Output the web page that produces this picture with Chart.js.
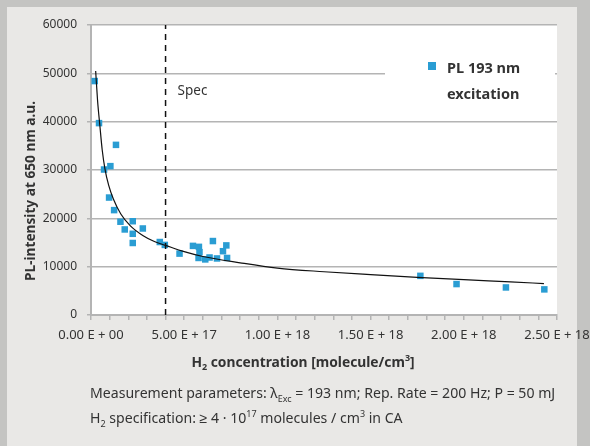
<!DOCTYPE html>
<html>
<head>
<meta charset="utf-8">
<script src="https://cdn.jsdelivr.net/npm/chart.js@4.4.1/dist/chart.umd.min.js"></script>
<style>
html,body{margin:0;padding:0;}
body{width:590px;height:446px;background:#c4c4c2;position:relative;overflow:hidden;
  font-family:'Noto Sans',sans-serif;font-stretch:condensed;}
#panel{position:absolute;left:7px;top:7px;width:570px;height:439px;background:#e9e8e6;}
#wrap{position:absolute;left:0;top:0;width:590px;height:446px;}
.cap{position:absolute;left:90px;font-size:14.1px;color:#333;white-space:nowrap;line-height:20px;}
.cap sub{font-size:9px;vertical-align:-4px;line-height:0;}
.cap sup{font-size:9px;vertical-align:6px;line-height:0;}
</style>
</head>
<body>
<div id="panel"></div>
<div id="wrap"><canvas id="c" width="590" height="446"></canvas></div>
<div class="cap" style="top:383px">Measurement parameters: λ<sub>Exc</sub> = 193 nm; Rep. Rate = 200 Hz; P = 50 mJ</div>
<div class="cap" style="top:408px">H<sub>2</sub> specification: ≥ 4 · 10<sup>17</sup> molecules / cm<sup>3</sup> in CA</div>
<script>
// ---- data ----
const concentration = [0.2e17, 0.43e17, 1.34e17, 0.70e17, 1.04e17, 0.97e17, 1.24e17, 1.58e17, 1.81e17,
  2.24e17, 2.24e17, 2.24e17, 2.78e17, 3.69e17, 3.96e17, 4.75e17, 5.47e17, 5.79e17, 5.82e17, 5.77e17,
  6.13e17, 6.36e17, 6.54e17, 6.76e17, 7.08e17, 7.26e17, 7.30e17, 17.67e17, 19.61e17, 22.26e17, 24.32e17];
const intensity = [48400, 39700, 35200, 30100, 30800, 24300, 21700, 19300, 17700,
  19400, 16800, 14900, 17900, 15100, 14500, 12700, 14300, 14100, 13000, 11800,
  11500, 11900, 15300, 11700, 13200, 14400, 11800, 8100, 6400, 5700, 5300];
const fitX = [0.25e17, 0.35e17, 0.48e17, 0.6e17, 0.75e17, 0.95e17, 1.2e17, 1.6e17, 2.1e17, 2.8e17, 3.4e17,
  4.0e17, 5.0e17, 6.0e17, 8.0e17, 10e17, 12.5e17, 15e17, 17.5e17, 20e17, 22.5e17, 24.3e17];
const fitY = [50500, 44500, 39000, 34200, 30200, 26800, 24000, 20900, 18500, 16400, 15200,
  14400, 13100, 12100, 10800, 9700, 8950, 8350, 7800, 7300, 6850, 6500];
const specX = [4e17, 4e17];
const specY = [0, 60000];
const xTickLabels = ['0.00 E + 00', '5.00 E + 17', '1.00 E + 18', '1.50 E + 18', '2.00 E + 18', '2.50 E + 18'];
const yTickLabels = ['0', '10000', '20000', '30000', '40000', '50000', '60000'];
const seriesName = ['PL 193 nm', 'excitation'];
const specLabel = 'Spec';
const yTitle = 'PL-intensity at 650 nm a.u.';

const FONT = "'Noto Sans', sans-serif";
const ST = 'condensed';
const BLUE = '#2a9dd3';
const GRID = '#b4b4b4';
const TXT = '#333333';

const pts = concentration.map((x, i) => ({x, y: intensity[i]}));
const fit = fitX.map((x, i) => ({x, y: fitY[i]}));
const spec = specX.map((x, i) => ({x, y: specY[i]}));

const deco = {
  id: 'deco',
  beforeDraw(chart) {
    const {ctx, chartArea: a} = chart;
    ctx.save();
    ctx.fillStyle = '#ffffff';
    ctx.fillRect(a.left, a.top, a.right - a.left, a.bottom - a.top);
    ctx.restore();
  },
  beforeDatasetsDraw(chart) {
    const {ctx, chartArea: a} = chart;
    ctx.save();
    ctx.fillStyle = '#ffffff';
    ctx.fillRect(a.right - 172, a.top + 25, 170, 60);
    ctx.restore();
  },
  afterDatasetsDraw(chart) {
    const {ctx, chartArea: a, scales} = chart;
    ctx.save();
    ctx.fillStyle = BLUE;
    ctx.fillRect(a.right - 129, a.top + 37, 8, 8);
    ctx.fillStyle = TXT;
    ctx.font = ST + ' bold 14.5px ' + FONT;
    ctx.textBaseline = 'alphabetic';
    ctx.textAlign = 'left';
    ctx.fillText(seriesName[0], a.right - 110, a.top + 48);
    ctx.fillText(seriesName[1], a.right - 110, a.top + 73.5);
    ctx.font = ST + ' 13.5px ' + FONT;
    ctx.fillText(specLabel, scales.x.getPixelForValue(specX[0]) + 12, a.top + 70);
    ctx.restore();
  },
  afterDraw(chart) {
    const {ctx} = chart;
    ctx.save();
    ctx.fillStyle = TXT;
    ctx.font = ST + ' bold 13.7px ' + FONT;
    ctx.translate(31, 191);
    ctx.rotate(-Math.PI / 2);
    ctx.textAlign = 'center';
    ctx.textBaseline = 'middle';
    ctx.fillText(yTitle, 0, 0);
    ctx.restore();
    ctx.save();
    ctx.fillStyle = TXT;
    ctx.textBaseline = 'alphabetic';
    const big = ST + ' bold 13.8px ' + FONT, small = ST + ' bold 9px ' + FONT;
    const parts = [['H', big, 0], ['2', small, 3], [' concentration [molecule/cm', big, 0], ['3', small, -6], [']', big, 0]];
    let w = 0;
    parts.forEach(p => { ctx.font = p[1]; w += ctx.measureText(p[0]).width; });
    let x = 303 - w / 2; const base = 367;
    parts.forEach(p => { ctx.font = p[1]; ctx.fillText(p[0], x, base + p[2]); x += ctx.measureText(p[0]).width; });
    ctx.restore();
  }
};

new Chart(document.getElementById('c'), {
  type: 'scatter',
  data: {
    datasets: [
      {label: 'fit', data: fit, showLine: true, borderColor: '#111111', borderWidth: 1.2, pointRadius: 0,
       cubicInterpolationMode: 'monotone', fill: false},
      {label: 'spec', data: spec, showLine: true, borderColor: '#111111', borderWidth: 1.5, borderDash: [6, 5],
       pointRadius: 0, fill: false},
      {label: seriesName.join(' '), data: pts, pointStyle: 'rect', pointRadius: 4.6, backgroundColor: BLUE,
       borderWidth: 0, showLine: false}
    ]
  },
  options: {
    responsive: false,
    animation: false,
    devicePixelRatio: 1,
    layout: {padding: {left: 0, top: 25, right: 33, bottom: 91}},
    plugins: {legend: {display: false}, tooltip: {enabled: false}},
    scales: {
      x: {
        type: 'linear', min: 0, max: 2.5e18,
        afterFit(s) { s.height = 40; s.paddingLeft = 0; s.paddingRight = 0; },
        ticks: {
          stepSize: 1e17, autoSkip: false, maxRotation: 0, minRotation: 0, color: TXT, padding: 7,
          font: {family: FONT, size: 13, weight: ST},
          callback(v) { const i = Math.round(v / 1e17); return i % 5 === 0 ? xTickLabels[i / 5] : ''; }
        },
        grid: {drawOnChartArea: false, drawTicks: true, tickLength: 5, color: GRID, lineWidth: 1.5},
        border: {color: GRID, width: 2}
      },
      y: {
        min: 0, max: 60000,
        afterFit(s) { s.width = 91; s.paddingTop = 0; s.paddingBottom = 0; },
        ticks: {
          stepSize: 10000, color: TXT, padding: 10, font: {family: FONT, size: 12, weight: ST},
          callback(v) { return yTickLabels[Math.round(v / 10000)]; }
        },
        grid: {color: GRID, lineWidth: 1.5, tickLength: 4},
        border: {color: GRID, width: 2}
      }
    }
  },
  plugins: [deco]
});
</script>
</body>
</html>
